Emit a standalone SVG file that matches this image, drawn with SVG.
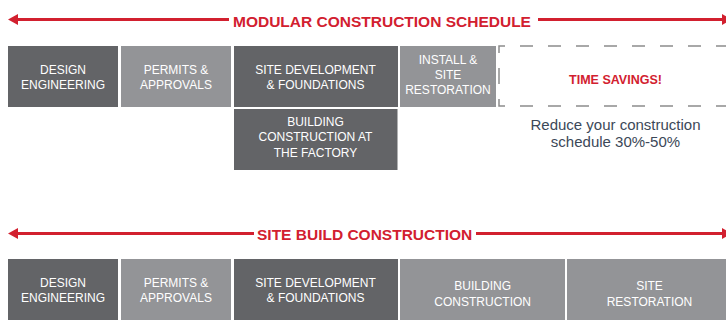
<svg xmlns="http://www.w3.org/2000/svg" width="726" height="320" viewBox="0 0 726 320">
<defs>
<marker id="ah" markerUnits="userSpaceOnUse" markerWidth="10" markerHeight="11" viewBox="0 0 10 11" refX="0" refY="5.5" orient="auto-start-reverse">
<path d="M0,0 L10,5.5 L0,11 z" fill="#d2202f"/>
</marker>
</defs>
<style>
.dark{fill:#636467}
.light{fill:#939497}
.lbl{font-family:"Liberation Sans",Arial,Helvetica,sans-serif;font-size:12px;fill:#ffffff;text-anchor:middle}
.title{font-family:"Liberation Sans",Arial,Helvetica,sans-serif;font-size:15.5px;font-weight:bold;fill:#d2202f}
.arrow{stroke:#d2202f;stroke-width:3;fill:none}
.dash{stroke:#8c8c8c;stroke-width:1.5;fill:none;stroke-dasharray:13 15;stroke-dashoffset:5}
.note{font-family:"Liberation Sans",Arial,Helvetica,sans-serif;font-size:15px;fill:#3c4858;text-anchor:middle}
</style>
<rect width="726" height="320" fill="#ffffff"/>
<g id="connectors">
<line class="arrow" x1="18" y1="19.5" x2="229" y2="19.5" marker-start="url(#ah)"/>
<line class="arrow" x1="538" y1="19.5" x2="722" y2="19.5" marker-end="url(#ah)"/>
<line class="arrow" x1="18" y1="233.5" x2="254" y2="233.5" marker-start="url(#ah)"/>
<line class="arrow" x1="476" y1="233.5" x2="722" y2="233.5" marker-end="url(#ah)"/>
</g>
<g id="title-modular"><text class="title" x="233" y="26.5">MODULAR CONSTRUCTION SCHEDULE</text></g>
<g id="title-site"><text class="title" x="257" y="239.5">SITE BUILD CONSTRUCTION</text></g>
<g id="m-design"><rect class="dark" x="8" y="46" width="110" height="61"/><text class="lbl" x="63" y="73.5">DESIGN</text><text class="lbl" x="63" y="89">ENGINEERING</text></g>
<g id="m-permits"><rect class="light" x="121" y="46" width="110" height="61"/><text class="lbl" x="176" y="73.5">PERMITS &amp;</text><text class="lbl" x="176" y="89">APPROVALS</text></g>
<g id="m-site"><rect class="dark" x="234" y="46" width="164" height="61"/><text class="lbl" x="315.5" y="73.5">SITE DEVELOPMENT</text><text class="lbl" x="315.5" y="89">&amp; FOUNDATIONS</text></g>
<g id="m-install"><rect class="light" x="400" y="46" width="96" height="61"/><text class="lbl" x="448" y="63.5">INSTALL &amp;</text><text class="lbl" x="448" y="78.8">SITE</text><text class="lbl" x="448" y="94">RESTORATION</text></g>
<g id="m-savings"><path class="dash" d="M499,76 V46 H740"/><path class="dash" d="M499,76 V106 H740"/><text x="615.5" y="83.5" style="font-family:'Liberation Sans',Arial,sans-serif;font-size:12.5px;font-weight:bold;fill:#d2202f;text-anchor:middle">TIME SAVINGS!</text></g>
<g id="m-factory"><rect class="dark" x="234" y="109" width="163.5" height="61"/><text class="lbl" x="315.5" y="125.5">BUILDING</text><text class="lbl" x="315.5" y="141">CONSTRUCTION AT</text><text class="lbl" x="315.5" y="156.5">THE FACTORY</text></g>
<g id="m-note"><text class="note" x="615.5" y="130">Reduce your construction</text><text class="note" x="615.5" y="147">schedule 30%-50%</text></g>
<g id="s-design"><rect class="dark" x="8" y="259" width="110" height="66"/><text class="lbl" x="63" y="286.5">DESIGN</text><text class="lbl" x="63" y="302">ENGINEERING</text></g>
<g id="s-permits"><rect class="light" x="121" y="259" width="110" height="66"/><text class="lbl" x="176" y="286.5">PERMITS &amp;</text><text class="lbl" x="176" y="302">APPROVALS</text></g>
<g id="s-site"><rect class="dark" x="234" y="259" width="164" height="66"/><text class="lbl" x="315.5" y="286.5">SITE DEVELOPMENT</text><text class="lbl" x="315.5" y="302">&amp; FOUNDATIONS</text></g>
<g id="s-building"><rect class="light" x="400" y="259" width="165" height="66"/><text class="lbl" x="482.7" y="290">BUILDING</text><text class="lbl" x="482.7" y="305.5">CONSTRUCTION</text></g>
<g id="s-restoration"><rect class="light" x="567" y="259" width="165" height="66"/><text class="lbl" x="649.5" y="290">SITE</text><text class="lbl" x="649.5" y="305.5">RESTORATION</text></g>
</svg>
